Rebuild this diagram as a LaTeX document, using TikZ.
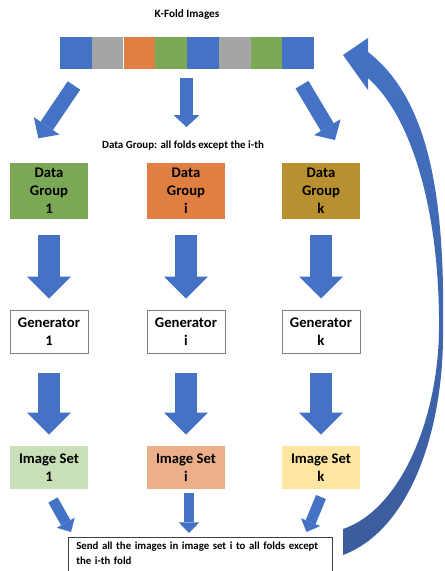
\documentclass[tikz,border=0pt]{standalone}
\usepackage{fontspec}
\setmainfont{Carlito}
\usetikzlibrary{arrows.meta}
\usepackage{xcolor}

\definecolor{foldblue}{HTML}{4472C4}
\definecolor{foldgray}{HTML}{A5A5A5}
\definecolor{foldorange}{HTML}{E07F42}
\definecolor{foldgreen}{HTML}{7AA854}
\definecolor{dgone}{HTML}{7AA854}
\definecolor{dgi}{HTML}{E07F42}
\definecolor{dgk}{HTML}{B8902F}
\definecolor{isone}{HTML}{C9DFB8}
\definecolor{isi}{HTML}{EBB08A}
\definecolor{isk}{HTML}{FDE5A2}
\definecolor{loopblue}{HTML}{3B5C9C}
\definecolor{edgegray}{HTML}{7F7F7F}

\tikzset{
  smalltext/.style={font=\bfseries\fontsize{8.4}{10}\selectfont, inner sep=0},
  fold/.style={minimum width=23.81pt, minimum height=24pt, inner sep=0},
  boxtext/.style={font=\bfseries\fontsize{11}{13.5}\selectfont, align=center, minimum width=58.5pt, inner sep=0},
  group/.style={boxtext, minimum height=42pt},
  gen/.style={boxtext, minimum height=32.25pt, draw=edgegray, line width=.75pt, fill=white},
  imgset/.style={boxtext, minimum height=32.25pt},
  bigarrow/.style={foldblue, line width=16.5pt, shorten >=8.25pt,
    -{Triangle[width=33pt, length=16.5pt, line width=0pt]}},
  foldarrow/.style={foldblue, line width=11.25pt,
    -{Triangle[width=23.25pt, length=11.25pt, line width=0pt]}},
  smallarrow/.style={foldblue, line width=8pt,
    -{Triangle[width=15.5pt, length=8pt, line width=0pt]}},
}

\begin{document}
\begin{tikzpicture}[x=0.75pt, y=-0.75pt]
\clip (0,0) rectangle (444,571);
\fill[white] (0,0) rectangle (444,571);

% the k folds
\node[smalltext] (title) at (187,15) {K-Fold Images};
\foreach \c [count=\i] in {foldblue,foldgray,foldorange,foldgreen,foldblue,foldgray,foldgreen,foldblue} {
  \node[fold, fill=\c] (f\i) at ({60+31.75*(\i-0.5)},53) {};
}
\node[smalltext, font=\bfseries\fontsize{8.2}{10}\selectfont] (note) at (183,146) {Data Group: all folds except the i-th};

% arrows from the folds
\coordinate (s1) at (74,85.5);   \coordinate (t1) at (38.3,138.3);
\coordinate (si) at (186.5,78);  \coordinate (ti) at (186.5,127);
\coordinate (sk) at (302,84.7);  \coordinate (tk) at (335,140);
\draw[foldarrow] (s1) -- (t1);
\draw[foldarrow, line width=9.75pt, -{Triangle[width=19.5pt, length=9pt, line width=0pt]}] (si) -- (ti);
\draw[foldarrow] (sk) -- (tk);

% one column per group
\foreach \x/\col/\dg/\is in {49/1/dgone/isone, 186/i/dgi/isi, 321/k/dgk/isk} {
  \node[group, fill=\dg] (dg\col) at (\x,191) {Data\\Group\\\col};
  \node[gen] (gen\col) at (\x,331.5) {Generator\\\col};
  \node[imgset, fill=\is] (is\col) at (\x,467.5) {Image Set\\\col};
  \draw[bigarrow, shorten <=12pt] (dg\col) -- (gen\col);
  \draw[bigarrow, shorten <=14.25pt] (gen\col) -- (is\col);
}

% sending back
\node[anchor=north west, text width=186pt, align=left, inner xsep=6pt, inner ysep=3.5pt,
  font=\bfseries\fontsize{8.1}{11.25}\selectfont] (send) at (68,537)
  {Send all the images in image set i to all folds except\\the i-th fold};
\draw[black!75, line width=.75pt] (send.north west) rectangle ++(264,60);

\coordinate (u1) at (53,500);    \coordinate (v1) at (71,532);
\coordinate (ui) at (189,493);   \coordinate (vi) at (189,533);
\coordinate (uk) at (321,497);   \coordinate (vk) at (306.5,532);
\draw[smallarrow] (u1) -- (v1);
\draw[smallarrow] (ui) -- (vi);
\draw[smallarrow] (uk) -- (vk);

% curved arrow back to the folds
\shade[top color=foldblue, bottom color=loopblue]
  (343,555) .. controls (410,530) and (444,430) .. (443,330)
  .. controls (445,200) and (430,100) .. (368,52)
  -- (368,38) -- (343,55) -- (368,90) -- (368,78)
  .. controls (415,120) and (440,220) .. (439,330)
  .. controls (438,420) and (400,510) .. (343,529) -- cycle;
\end{tikzpicture}
\end{document}
